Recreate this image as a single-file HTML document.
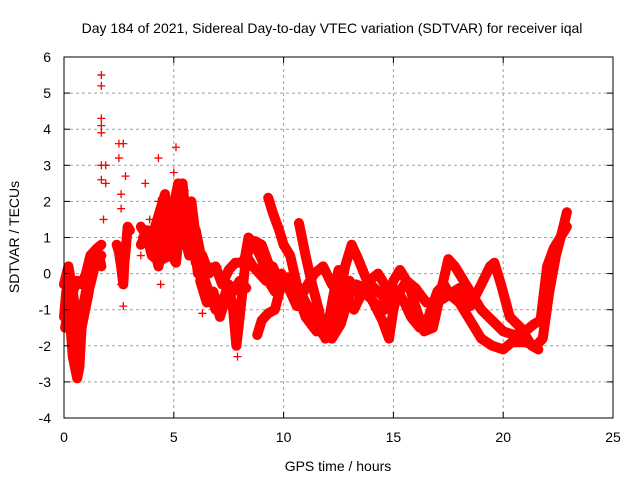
<!DOCTYPE html>
<html><head><meta charset="utf-8"><style>
body{margin:0;background:#fff}
svg text{font-family:"Liberation Sans",sans-serif;font-size:14px;fill:#000}
</style></head><body>
<svg id="chart" width="640" height="480" xmlns="http://www.w3.org/2000/svg">
<rect width="640" height="480" fill="#fff"/>
<text x="332" y="33" text-anchor="middle">Day 184 of 2021, Sidereal Day-to-day VTEC variation (SDTVAR) for receiver iqal</text>
<g id="grid"></g>
<g id="series"></g>
<g id="axes"></g>
<text transform="translate(19,237) rotate(-90)" text-anchor="middle">SDTVAR / TECUs</text>
<text x="338" y="471" text-anchor="middle">GPS time / hours</text>
</svg>
<script>
const xTicks=[0,5,10,15,20,25];
const yTicks=[-4,-3,-2,-1,0,1,2,3,4,5,6];
const trackA=[[0,-1.2],[0.1,-0.5],[0.2,-0.8],[0.3,-1.5],[0.4,-2.3],[0.5,-2.6],[0.6,-2.9],[0.7,-2.6],[0.8,-1.5],[0.9,-0.8],[1.0,-0.5],[1.2,-0.3],[1.4,0.2],[1.6,0.5],[1.7,0.2]];
const trackA2=[[0,-0.3],[0.2,0.2],[0.4,-0.5],[0.6,-0.2],[0.8,-0.3],[1.0,0.0],[1.2,0.5],[1.5,0.7],[1.7,0.8]];
const trackA3=[[0.05,-1.5],[0.2,-1.0],[0.35,-0.2],[0.5,-1.0],[0.7,-1.8],[0.9,-1.2],[1.1,-0.6],[1.3,0.1],[1.5,0.3],[1.7,0.5]];
const trackB=[[2.4,0.8],[2.5,0.6],[2.6,0.2],[2.7,-0.3],[2.75,0.3],[2.8,0.6],[2.9,1.3],[3.0,1.2]];
const trackM1=[[3.5,1.3],[3.8,1.0],[4.0,0.5],[4.2,0.4],[4.5,1.5],[4.7,1.0],[4.9,0.5],[5.1,0.3],[5.3,1.5],[5.5,1.0],[5.7,0.5],[5.9,1.0],[6.1,0.0]];
const trackM2=[[3.5,0.8],[3.8,1.2],[4.0,1.0],[4.3,0.2],[4.5,0.8],[4.7,1.8],[4.9,1.5],[5.1,2.2],[5.2,2.5],[5.4,2.0],[5.6,1.5],[5.8,0.8],[6.0,1.2],[6.2,0.6]];
const trackM3=[[4.5,0.4],[4.8,0.5],[5.0,1.2],[5.2,1.8],[5.4,1.0],[5.6,2.0],[5.8,1.5],[6.0,0.3]];
const trackM4=[[3.6,1.0],[3.9,0.9],[4.1,1.2],[4.4,1.8],[4.6,2.2],[4.8,1.0],[5.0,1.8],[5.2,2.3],[5.4,2.5],[5.6,1.2],[5.8,2.0],[6.0,1.0]];
const trackH=[[6.0,0.7],[6.3,0.5],[6.6,0.0],[6.9,0.2],[7.2,-0.3],[7.5,0.1],[7.8,0.3],[8.1,0.3],[8.4,0.6],[8.7,0.9],[9.0,0.8],[9.3,0.3]];
const trackI=[[6.2,-0.2],[6.5,-0.8],[6.8,-0.5],[7.1,-1.2],[7.4,-0.6],[7.7,-0.5],[8.0,-0.2],[8.3,-0.4]];
const trackC=[[6.3,0.0],[6.6,-0.5],[6.9,-1.0],[7.2,-0.8],[7.5,-0.3],[7.7,-1.0],[7.85,-2.0],[8.0,-1.2],[8.3,0.5],[8.6,0.2],[8.9,0.0],[9.2,-0.2],[9.5,0.2],[9.8,-0.2],[10.2,-0.1],[10.6,-0.5],[11.0,-1.2],[11.5,-1.6],[12.0,-1.5],[12.3,-0.5],[12.5,0.1],[12.8,-0.6],[13.2,-1.0],[13.6,-0.5],[14.0,-0.7],[14.5,-1.3],[14.8,-1.8],[15.0,-1.0],[15.2,-0.5],[15.5,-0.8],[15.8,-1.2],[16.2,-1.5],[16.6,-1.2],[17.0,-0.5],[17.3,-0.3],[17.6,-0.6],[18.0,-0.8],[18.5,-1.3],[19.0,-1.8],[19.5,-2.0],[20.0,-2.1],[20.4,-1.9],[21.0,-1.9],[21.5,-2.0],[21.8,-1.8],[22.1,-0.5],[22.4,0.5],[22.7,1.2],[22.9,1.7]];
const trackD=[[9.3,2.1],[9.5,1.7],[9.8,1.2],[10.0,0.8],[10.3,0.5],[10.6,-0.3],[11.0,-0.8],[11.4,-1.2],[11.8,-1.7],[12.2,-1.8],[12.6,-1.4],[13.0,-0.6],[13.3,-0.3],[13.7,-0.4],[14.1,-0.8],[14.6,-1.0],[15.0,-0.2],[15.3,0.1],[15.7,-0.3],[16.0,-0.9],[16.4,-1.6],[16.8,-1.5],[17.2,-0.4],[17.5,0.4],[17.8,0.2],[18.2,-0.2],[18.6,-0.6],[19.0,-1.0],[19.5,-1.3],[20.0,-1.6],[20.5,-1.7],[21.0,-1.6],[21.4,-1.4],[21.7,-1.3],[22.0,0.2],[22.3,0.7],[22.6,1.0],[22.9,1.3]];
const trackE=[[10.7,1.4],[11.0,0.5],[11.3,-0.3],[11.6,-1.0],[11.9,-1.8],[12.2,-1.6],[12.5,-0.8],[12.8,0.2],[13.1,0.8],[13.4,0.4],[13.8,-0.2],[14.3,-0.5],[14.8,-0.8],[15.2,-0.6],[15.6,-0.2],[16.0,-0.4],[16.5,-0.8],[17.0,-0.8],[17.5,-0.6],[18.0,-0.4],[18.5,-0.9],[19.0,-0.3],[19.4,0.2],[19.6,0.3],[19.9,-0.3],[20.3,-1.2],[20.8,-1.5],[21.3,-2.0],[21.6,-2.1]];
const trackF=[[8.2,0.3],[8.4,1.0],[8.7,0.8],[9.0,0.4],[9.3,-0.2],[9.6,-0.5],[9.9,0.0],[10.3,-0.5],[10.6,-0.9],[11.0,-0.4],[11.4,0.0],[11.8,0.2],[12.2,-0.3],[12.6,-0.6],[13.0,-0.2],[13.5,-0.6],[13.9,-0.2],[14.3,0.0],[14.6,-0.3],[15.0,-0.6],[15.4,-0.4]];
const trackG=[[8.8,-1.7],[9.0,-1.3],[9.3,-1.1],[9.6,-1.0],[9.9,-0.3]];
const outliers=[[1.7,5.5],[1.7,5.2],[1.7,4.3],[1.7,4.1],[1.7,3.9],[1.7,3.0],[1.7,2.6],[1.9,3.0],[1.9,2.5],[1.8,1.5],[2.5,3.6],[2.7,3.6],[2.5,3.2],[2.6,2.2],[2.6,1.8],[2.8,2.7],[2.7,-0.9],[2.6,-0.3],[3.5,0.5],[3.7,2.5],[3.9,1.5],[4.3,3.2],[4.3,2.0],[4.4,-0.3],[5.1,3.5],[5.0,2.8],[5.5,2.3],[4.6,1.5],[7.0,0.2],[6.7,0.2],[6.3,-1.1],[7.9,-2.3],[7.8,-1.9],[8.0,-1.5]];
const tracks=[trackA,trackA2,trackA3,trackB,trackM1,trackM2,trackM3,trackM4,trackH,trackI,trackC,trackD,trackE,trackF,trackG];

const L=64,R=613,T=57,B=418,xMin=0,xMax=25,yMin=-4,yMax=6;
const NS="http://www.w3.org/2000/svg";
function xs(v){return L+(v-xMin)/(xMax-xMin)*(R-L);}
function ys(v){return B-(v-yMin)/(yMax-yMin)*(B-T);}
function mk(tag,attrs,parent){const e=document.createElementNS(NS,tag);for(const k in attrs)e.setAttribute(k,attrs[k]);parent.appendChild(e);return e;}
const grid=document.getElementById('grid'),axes=document.getElementById('axes'),ser=document.getElementById('series');
xTicks.forEach(t=>{
  const x=xs(t);
  if(t>xMin&&t<xMax){const g=mk('line',{x1:x,x2:x,y1:T,y2:B,stroke:'#a0a0a0','stroke-dasharray':'3,3'},grid);
  
  }
  mk('line',{x1:x,x2:x,y1:B,y2:B-6,stroke:'#000'},axes);
  mk('line',{x1:x,x2:x,y1:T,y2:T+6,stroke:'#000'},axes);
  const lb=mk('text',{x:x,y:B+24,'text-anchor':'middle'},axes);lb.textContent=t;
  
  
});
yTicks.forEach(t=>{
  const y=ys(t);
  if(t>yMin&&t<yMax){const g=mk('line',{x1:L,x2:R,y1:y,y2:y,stroke:'#a0a0a0','stroke-dasharray':'3,3'},grid);
  
  }
  mk('line',{x1:L,x2:L+6,y1:y,y2:y,stroke:'#000'},axes);
  mk('line',{x1:R,x2:R-6,y1:y,y2:y,stroke:'#000'},axes);
  const lb=mk('text',{x:L-13,y:y+5,'text-anchor':'end'},axes);lb.textContent=t;
  
  
});
const fr=mk('rect',{x:L,y:T,width:R-L,height:B-T,fill:'none',stroke:'#000'},axes);


function plus(x,y){mk('path',{d:`M${x-4},${y}h8M${x},${y-4}v8`,stroke:'#f00','stroke-width':1.3},ser);}
tracks.forEach(tr=>{
  const p=mk('polyline',{points:tr.map(d=>xs(d[0])+','+ys(d[1])).join(' '),fill:'none',stroke:'#f00','stroke-width':10,'stroke-linejoin':'round','stroke-linecap':'round'},ser);
  
  
  tr.forEach(d=>plus(xs(d[0]),ys(d[1])));
});
outliers.forEach(d=>plus(xs(d[0]),ys(d[1])));
</script>
</body></html>
